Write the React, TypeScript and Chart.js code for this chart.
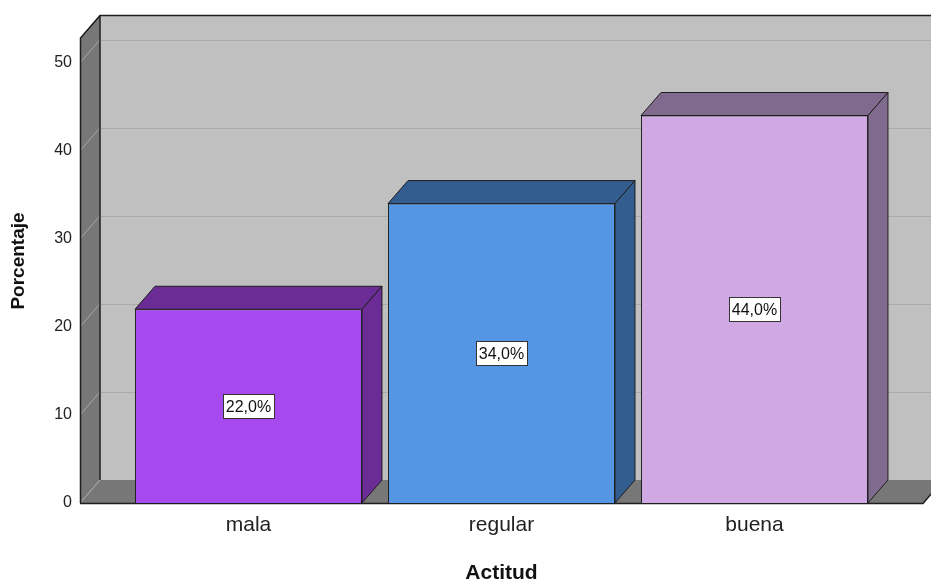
import { useEffect, useRef } from 'react';
import { Chart, registerables } from 'chart.js';

Chart.register(...registerables);

// Attitude distribution (percent of respondents)
const categories = ['mala', 'regular', 'buena'];
const percentages = [22.0, 34.0, 44.0];
const yTickValues = [0, 10, 20, 30, 40, 50];
const frontColors = ['#a64af0', '#5596e4', '#d0a9e4'];
const shadeColors = ['#6b2c96', '#335d8f', '#806a8e'];
const xTitle = 'Actitud';
const yTitle = 'Porcentaje';

// Perspective offset of the pseudo-3D depth
const DX = 20;
const DY = 23;
const EDGE = '#1e1e1e';
const FONT = "'Liberation Sans', Arial, sans-serif";

const fmtPct = (v: number) => v.toFixed(1).replace('.', ',') + '%';

function poly(ctx: CanvasRenderingContext2D, pts: number[][], fill: string, stroke?: string) {
  ctx.beginPath();
  ctx.moveTo(pts[0][0], pts[0][1]);
  for (let i = 1; i < pts.length; i++) ctx.lineTo(pts[i][0], pts[i][1]);
  ctx.closePath();
  ctx.fillStyle = fill;
  ctx.fill();
  if (stroke) {
    ctx.strokeStyle = stroke;
    ctx.lineWidth = 1;
    ctx.stroke();
  }
}

function seg(ctx: CanvasRenderingContext2D, x1: number, y1: number, x2: number, y2: number) {
  ctx.beginPath();
  ctx.moveTo(x1, y1);
  ctx.lineTo(x2, y2);
  ctx.stroke();
}

// Walls, floor and gridlines of the 3D frame
const framePlugin = {
  id: 'frame3d',
  beforeDatasetsDraw(chart: any) {
    const { ctx, chartArea: a, scales } = chart;
    const y = scales.y;
    const L = a.left;
    const T = a.top;
    const B = a.bottom;
    const R = a.right;
    const W = chart.width + DX;
    ctx.save();
    // back wall
    ctx.fillStyle = '#c0c0c0';
    ctx.fillRect(L + DX, T - DY, W - L, B - T);
    // left wall
    poly(ctx, [[L, T], [L + DX, T - DY], [L + DX, B - DY], [L, B]], '#777777');
    // floor
    poly(ctx, [[L, B], [L + DX, B - DY], [R + DX, B - DY], [R, B]], '#777777');

    // gridlines
    ctx.lineWidth = 1;
    ctx.strokeStyle = '#aaaaaa';
    for (const v of yTickValues) {
      const py = y.getPixelForValue(v);
      if (v > 0) seg(ctx, L + DX, Math.round(py - DY) + 0.5, W, Math.round(py - DY) + 0.5);
      seg(ctx, L, py, L + DX, py - DY);
    }

    // frame edges
    ctx.strokeStyle = EDGE;
    ctx.lineWidth = 1.5;
    ctx.beginPath();
    ctx.moveTo(L + 0.5, B);
    ctx.lineTo(L + 0.5, T);
    ctx.lineTo(L + DX, T - DY + 0.5);
    ctx.lineTo(W, T - DY + 0.5);
    ctx.stroke();
    seg(ctx, L + DX, T - DY, L + DX, B - DY);
    ctx.beginPath();
    ctx.moveTo(L, B + 0.5);
    ctx.lineTo(R, B + 0.5);
    ctx.lineTo(R + DX, B - DY);
    ctx.stroke();
    ctx.restore();
  },
  afterDatasetsDraw(chart: any) {
    const { ctx } = chart;
    const meta = chart.getDatasetMeta(0);
    ctx.save();
    meta.data.forEach((el: any, i: number) => {
      const { x, y, base, width } = el.getProps(['x', 'y', 'base', 'width'], true);
      const x0 = x - width / 2;
      const x1 = x + width / 2;
      // top face
      poly(ctx, [[x0, y], [x0 + DX, y - DY], [x1 + DX, y - DY], [x1, y]], shadeColors[i], EDGE);
      // side face
      poly(ctx, [[x1, y], [x1 + DX, y - DY], [x1 + DX, base - DY], [x1, base]], shadeColors[i], EDGE);

      // value label in a white box
      const label = fmtPct(percentages[i]);
      ctx.font = `16px ${FONT}`;
      const tw = ctx.measureText(label).width;
      const cy = (y + base) / 2;
      const bw = Math.round(tw + 6);
      const bh = 24;
      const bx = Math.round(x - bw / 2) + 0.5;
      const by = Math.round(cy - bh / 2) + 0.5;
      ctx.fillStyle = '#ffffff';
      ctx.fillRect(bx, by, bw, bh);
      ctx.strokeStyle = '#333333';
      ctx.lineWidth = 1;
      ctx.strokeRect(bx, by, bw, bh);
      ctx.fillStyle = '#111111';
      ctx.textAlign = 'center';
      ctx.textBaseline = 'middle';
      ctx.fillText(label, x, cy + 1);
    });
    ctx.restore();
  },
  afterDraw(chart: any) {
    const { ctx, chartArea: a } = chart;
    ctx.save();
    ctx.fillStyle = '#111111';
    ctx.textAlign = 'center';
    ctx.textBaseline = 'middle';
    ctx.font = `bold 21px ${FONT}`;
    ctx.fillText(xTitle, (a.left + a.right) / 2, 573);
    ctx.translate(19, (a.top - DY + a.bottom) / 2 + 2);
    ctx.rotate(-Math.PI / 2);
    ctx.font = `bold 19px ${FONT}`;
    ctx.fillText(yTitle, 0, 0);
    ctx.restore();
  },
};

export default function App() {
  const canvasRef = useRef<HTMLCanvasElement | null>(null);

  useEffect(() => {
    const canvas = canvasRef.current;
    if (!canvas) return;
    const chart = new Chart(canvas, {
      type: 'bar',
      data: {
        datasets: [
          {
            data: categories.map((_, i) => ({ x: i, y: percentages[i] })),
            backgroundColor: frontColors,
            borderColor: EDGE,
            borderWidth: 1,
            categoryPercentage: 0.897,
            barPercentage: 1,
          },
        ],
      },
      options: {
        animation: false,
        responsive: false,
        devicePixelRatio: 1,
        layout: { padding: { top: 38, right: 8, left: 0, bottom: 0 } },
        plugins: {
          legend: { display: false },
          tooltip: { enabled: false },
        },
        scales: {
          x: {
            type: 'linear',
            offset: false,
            bounds: 'data',
            min: -0.666,
            max: 2.666,
            grid: { display: false, drawTicks: false },
            border: { display: false },
            afterDataLimits: (scale: any) => {
              scale.min = -0.666;
              scale.max = 2.666;
            },
            afterBuildTicks: (scale: any) => {
              scale.ticks = categories.map((_, i) => ({ value: i }));
            },
            afterFit: (scale: any) => {
              scale.height = 82;
            },
            ticks: {
              padding: 10,
              color: '#222222',
              font: { family: FONT, size: 21 },
              callback: (v: any) => categories[Math.round(Number(v))] ?? '',
            },
          },
          y: {
            type: 'linear',
            min: 0,
            max: 52.8,
            grid: { display: false, drawTicks: false },
            border: { display: false },
            afterBuildTicks: (scale: any) => {
              scale.ticks = yTickValues.map((v) => ({ value: v }));
            },
            afterFit: (scale: any) => {
              scale.width = 80;
            },
            ticks: {
              padding: 8,
              color: '#222222',
              font: { family: FONT, size: 16 },
            },
          },
        },
      },
      plugins: [framePlugin],
    });
    return () => chart.destroy();
  }, []);

  return (
    <div style={{ position: 'absolute', left: 0, top: 0, width: 931, height: 585, background: '#ffffff' }}>
      <canvas ref={canvasRef} width={931} height={585} />
    </div>
  );
}
